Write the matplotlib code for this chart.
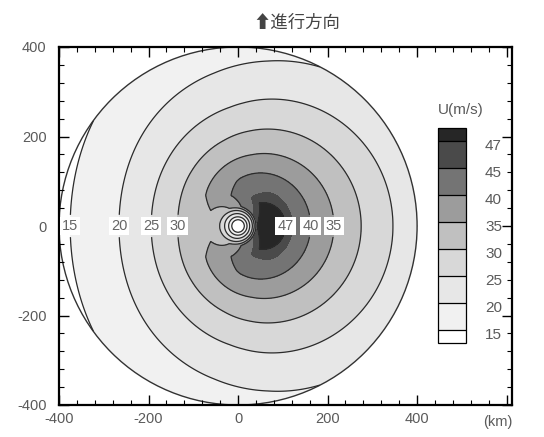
import numpy as np
import matplotlib
matplotlib.use("Agg")
import matplotlib.pyplot as plt
from matplotlib.colors import ListedColormap, BoundaryNorm
from matplotlib.patches import Circle
from matplotlib.ticker import MultipleLocator
from matplotlib.transforms import ScaledTranslation

plt.rcParams["font.family"] = ["Liberation Sans Narrow", "Liberation Sans", "DejaVu Sans"]

east_r = [0, 14, 20, 26, 32, 36, 40, 44, 70, 106, 162, 214, 275, 346, 440, 520]
east_u = [8, 15, 20, 25, 30, 35, 40, 47, 49.5, 47, 40, 35, 30, 25, 20, 17]
west_r = [0, 14, 21, 30, 41, 70, 100, 135, 194, 266, 375, 440, 520]
west_u = [8, 15, 20, 25, 30, 34, 33, 30, 25, 20, 15, 13, 11]

levels = [15, 20, 25, 30, 35, 40, 45, 47]
line_levels = [15, 20, 25, 30, 35, 40, 47]
fill_colors = ["#ffffff", "#f1f1f1", "#e7e7e7", "#d8d8d8", "#c0c0c0",
               "#9c9c9c", "#747474", "#4a4a4a", "#262626"]
domain_r = 400  # km

# label spots on the contours (km)
label_spots = [(-372, 0), (-266, 0), (-194, 0), (-135, 0),
               (106, 0), (162, 0), (214, 0)]

# field: east/west profiles blended with the azimuth
x = np.arange(-400, 621, 1.0)
y = np.arange(-400, 401, 1.0)
X, Y = np.meshgrid(x, y)
R = np.hypot(X, Y)
cos_t = np.divide(X, R, out=np.zeros_like(R), where=R > 0)
ue = np.interp(R, east_r, east_u)
uw = np.interp(R, west_r, west_u)
U = (ue + uw) / 2 + (ue - uw) / 2 * cos_t
U = np.ma.masked_where(R > domain_r, U)

fig = plt.figure(figsize=(5.44, 4.37), dpi=100)
ax = fig.add_axes([59 / 544, 32 / 437, 453 / 544, 358 / 437])

cmap = ListedColormap(fill_colors[1:-1])
cmap.set_under(fill_colors[0])
cmap.set_over(fill_colors[-1])
norm = BoundaryNorm(levels, cmap.N)

cf = ax.contourf(X, Y, U, levels=levels, cmap=cmap, norm=norm, extend="both")
cs = ax.contour(X, Y, U, levels=line_levels, colors="#2b2b2b", linewidths=0.9)
labels = ax.clabel(cs, manual=label_spots, inline=True, inline_spacing=3,
                   fmt="%d", fontsize=10.5, colors="#666666")
for t in labels:
    t.set_rotation(0)
    t.set_bbox(dict(facecolor="white", edgecolor="none", pad=1.5))

ax.add_patch(Circle((0, 0), domain_r, fill=False, lw=1.0, ec="#333333"))

ax.set_xlim(-400, 612)
ax.set_ylim(-400, 400)
ax.set_xticks([-400, -200, 0, 200, 400, 600])
ax.set_xticklabels(["-400", "-200", "0", "200", "400", ""])
ax.set_yticks([-400, -200, 0, 200, 400])
ax.set_yticklabels(["-400", "-200", "0", "200", "400"])
ax.xaxis.set_minor_locator(MultipleLocator(40))
ax.yaxis.set_minor_locator(MultipleLocator(40))
ax.tick_params(which="both", direction="in", top=True, right=True,
               color="black", labelcolor="#5a5a5a", labelsize=10.5)
ax.tick_params(which="major", length=7, width=1.0)
ax.tick_params(which="minor", length=3.5, width=0.8)
ax.tick_params(axis="x", pad=5)
ax.tick_params(axis="y", pad=9)
for s in ax.spines.values():
    s.set_linewidth(1.6)

ax.annotate("(km)", xy=(1.0, 0), xycoords="axes fraction", xytext=(0, -7),
            textcoords="offset points", ha="right", va="top",
            fontsize=10.5, color="#5a5a5a")

fig.text(297 / 544, 1 - 23 / 437, "⬆進行方向", ha="center", va="center",
         fontsize=12.5, color="#444444",
         family=["Noto Sans CJK JP", "DejaVu Sans"])

# legend bar
cax = fig.add_axes([438 / 544, (437 - 343) / 437, 28 / 544, 215 / 437])
cb = fig.colorbar(cf, cax=cax, extend="both", extendrect=True,
                  extendfrac=0.5 / 7, drawedges=True)
cb.outline.set_linewidth(0.9)
cb.outline.set_edgecolor("black")
cb.dividers.set_color("black")
cb.dividers.set_linewidth(0.9)
cb.set_ticks(levels)
cb.ax.tick_params(length=0, labelright=False)
shift = ScaledTranslation(19 / 100, -5 / 100, fig.dpi_scale_trans)
for lev in levels:
    cb.ax.text(1.0, lev, str(lev), transform=cb.ax.get_yaxis_transform() + shift,
               ha="left", va="center", fontsize=11, color="#5a5a5a")
fig.text(438 / 544, 1 - 110 / 437, "U(m/s)", ha="left", va="center",
         fontsize=11, color="#5a5a5a")

fig.savefig("out.png", dpi=100)
